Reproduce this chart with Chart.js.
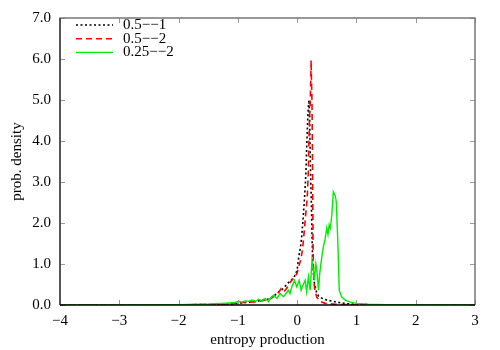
<!DOCTYPE html>
<html>
<head>
<meta charset="utf-8">
<script src="https://cdn.jsdelivr.net/npm/chart.js@4/dist/chart.umd.min.js"></script>
<style>
html,body{margin:0;padding:0;background:#fff;}
#wrap{width:500px;height:350px;}
</style>
</head>
<body>
<div id="wrap"><canvas id="c" width="500" height="350"></canvas></div>
<script>
// ---- data ----
const seriesLabels = ["0.5\u2212\u22121", "0.5\u2212\u22122", "0.25\u2212\u22122"];
const xTicks = [-4, -3, -2, -1, 0, 1, 2, 3];
const yTicks = [0, 1, 2, 3, 4, 5, 6, 7];

const blackX = [-4, -3, -2, -1.5, -1.2, -1.0, -0.9, -0.8, -0.7, -0.6, -0.5, -0.45, -0.4, -0.35, -0.3, -0.25, -0.2, -0.15, -0.1, -0.05, 0, 0.03, 0.06, 0.08, 0.1, 0.12, 0.14, 0.15, 0.16, 0.17, 0.18, 0.19, 0.2, 0.21, 0.22, 0.23, 0.24, 0.25, 0.26, 0.27, 0.29, 0.31, 0.33, 0.36, 0.4, 0.44, 0.5, 0.6, 0.67, 0.75, 0.84, 0.95, 1.1, 1.5, 3];
const blackY = [0, 0, 0.005, 0.01, 0.02, 0.04, 0.06, 0.07, 0.09, 0.11, 0.14, 0.17, 0.21, 0.27, 0.33, 0.38, 0.46, 0.54, 0.6, 0.68, 0.85, 1.2, 1.45, 1.72, 2.1, 2.5, 3.0, 3.3, 3.8, 4.2, 4.6, 4.85, 5.0, 4.6, 3.7, 3.0, 2.5, 1.7, 1.2, 0.85, 0.55, 0.4, 0.3, 0.22, 0.18, 0.15, 0.12, 0.09, 0.07, 0.05, 0.03, 0.02, 0.01, 0, 0];

const redX = [-4, -3, -2, -1.5, -1.2, -1.0, -0.9, -0.8, -0.7, -0.6, -0.5, -0.45, -0.4, -0.35, -0.3, -0.27, -0.22, -0.17, -0.12, -0.08, -0.04, 0, 0.03, 0.06, 0.09, 0.12, 0.15, 0.17, 0.19, 0.2, 0.21, 0.22, 0.23, 0.235, 0.24, 0.25, 0.255, 0.26, 0.265, 0.27, 0.28, 0.3, 0.33, 0.36, 0.4, 0.47, 0.55, 0.65, 0.8, 1.0, 1.5, 3];
const redY = [0, 0, 0.005, 0.01, 0.02, 0.04, 0.06, 0.07, 0.08, 0.1, 0.13, 0.16, 0.2, 0.25, 0.33, 0.4, 0.33, 0.42, 0.55, 0.62, 0.68, 0.78, 0.95, 1.1, 1.35, 1.8, 2.3, 2.6, 3.3, 4.1, 4.6, 4.9, 5.5, 5.97, 5.6, 5.0, 4.2, 3.3, 2.2, 1.3, 0.6, 0.35, 0.2, 0.13, 0.08, 0.04, 0.03, 0.015, 0.01, 0.005, 0, 0];

const greenX = [-4, -3, -2, -1.7, -1.5, -1.4, -1.27, -1.15, -1.05, -0.98, -0.93, -0.88, -0.82, -0.76, -0.7, -0.65, -0.6, -0.54, -0.48, -0.44, -0.4, -0.34, -0.29, -0.23, -0.19, -0.15, -0.12, -0.09, -0.045, -0.005, 0.034, 0.067, 0.09, 0.11, 0.135, 0.16, 0.19, 0.22, 0.25, 0.275, 0.29, 0.315, 0.335, 0.36, 0.38, 0.415, 0.44, 0.47, 0.5, 0.52, 0.54, 0.56, 0.585, 0.61, 0.64, 0.66, 0.69, 0.71, 0.75, 0.81, 0.9, 1.0, 1.2, 1.5, 2, 3];
const greenY = [0, 0, 0.01, 0.02, 0.02, 0.03, 0.04, 0.05, 0.06, 0.09, 0.07, 0.1, 0.09, 0.12, 0.09, 0.14, 0.1, 0.16, 0.08, 0.18, 0.24, 0.16, 0.28, 0.2, 0.28, 0.36, 0.28, 0.44, 0.6, 0.44, 0.6, 0.36, 0.45, 0.52, 0.6, 0.32, 0.68, 0.36, 1.08, 0.84, 0.6, 1.0, 0.8, 0.36, 0.76, 1.16, 1.4, 1.6, 1.88, 1.72, 1.96, 1.88, 2.2, 2.76, 2.68, 2.52, 1.4, 0.36, 0.2, 0.12, 0.07, 0.04, 0.02, 0.01, 0.005, 0];

const pts = (xs, ys) => xs.map((x, i) => ({x: x, y: ys[i]}));
const FONT = "'Liberation Serif', 'Times New Roman', serif";
const fmtMinus = s => String(s).replace('-', '\u2212');

const frameAndLegend = {
  id: 'frameAndLegend',
  afterDatasetsDraw(chart) {
    const {ctx, chartArea: a, scales: {x, y}} = chart;
    ctx.save();
    // inward ticks
    ctx.strokeStyle = '#999';
    ctx.lineWidth = 1;
    const tl = 5;
    xTicks.forEach(v => {
      const px = Math.round(x.getPixelForValue(v)) + 0.5;
      ctx.beginPath();
      ctx.moveTo(px, a.bottom); ctx.lineTo(px, a.bottom - tl);
      ctx.moveTo(px, a.top); ctx.lineTo(px, a.top + tl);
      ctx.stroke();
    });
    yTicks.forEach(v => {
      const py = Math.round(y.getPixelForValue(v)) + 0.5;
      ctx.beginPath();
      ctx.moveTo(a.left, py); ctx.lineTo(a.left + tl, py);
      ctx.moveTo(a.right, py); ctx.lineTo(a.right - tl, py);
      ctx.stroke();
    });
    // border
    ctx.strokeStyle = '#777';
    ctx.lineWidth = 1.5;
    ctx.beginPath();
    ctx.moveTo(a.left, a.bottom); ctx.lineTo(a.left, a.top);
    ctx.lineTo(a.right, a.top); ctx.lineTo(a.right, a.bottom);
    ctx.stroke();
    ctx.strokeStyle = '#333';
    ctx.lineWidth = 1.3;
    ctx.beginPath();
    ctx.moveTo(a.left, a.top); ctx.lineTo(a.left, a.bottom);
    ctx.stroke();
    ctx.strokeStyle = '#000';
    ctx.lineWidth = 1.5;
    ctx.beginPath();
    ctx.moveTo(a.left, a.bottom); ctx.lineTo(a.right, a.bottom);
    ctx.stroke();
    // legend
    ctx.font = '15px ' + FONT;
    ctx.textBaseline = 'middle';
    ctx.textAlign = 'left';
    chart.data.datasets.forEach((ds, i) => {
      const ly = 25 + i * 13.7;
      ctx.strokeStyle = ds.borderColor;
      ctx.lineWidth = ds.borderWidth;
      ctx.setLineDash(ds.borderDash || []);
      ctx.beginPath();
      ctx.moveTo(76, ly); ctx.lineTo(113, ly);
      ctx.stroke();
      ctx.setLineDash([]);
      ctx.fillStyle = '#000';
      ctx.fillText(ds.label, 123, ly);
    });
    ctx.restore();
  }
};

new Chart(document.getElementById('c'), {
  type: 'line',
  data: {
    datasets: [
      {label: seriesLabels[0], data: pts(blackX, blackY), borderColor: '#000000', borderWidth: 1.6, borderDash: [2, 2.5], order: 3},
      {label: seriesLabels[1], data: pts(redX, redY), borderColor: '#ff0000', borderWidth: 1.6, borderDash: [6, 4], order: 2},
      {label: seriesLabels[2], data: pts(greenX, greenY), borderColor: '#00ee00', borderWidth: 1.4, order: 1}
    ]
  },
  options: {
    responsive: false,
    animation: false,
    parsing: true,
    elements: {point: {radius: 0}, line: {tension: 0, fill: false}},
    layout: {padding: {left: 0, top: 14, right: 25, bottom: 0}},
    plugins: {legend: {display: false}, tooltip: {enabled: false}},
    scales: {
      x: {
        type: 'linear', min: -4, max: 3,
        afterBuildTicks: s => { s.ticks = xTicks.map(v => ({value: v})); },
        afterFit: s => { s.height = 45; },
        grid: {display: false, drawTicks: false},
        border: {display: false},
        ticks: {color: '#000', padding: 7, font: {family: FONT, size: 15}, callback: v => fmtMinus(v), maxRotation: 0},
        title: {display: true, text: 'entropy production', color: '#000', font: {family: FONT, size: 15}, padding: {top: 0, bottom: 1}}
      },
      y: {
        type: 'linear', min: 0, max: 7,
        afterBuildTicks: s => { s.ticks = yTicks.map(v => ({value: v})); },
        afterFit: s => { s.width = 60; },
        grid: {display: false, drawTicks: false},
        border: {display: false},
        ticks: {color: '#000', padding: 9, font: {family: FONT, size: 15}, callback: v => Number(v).toFixed(1)},
        title: {display: true, text: 'prob. density', color: '#000', font: {family: FONT, size: 15}, padding: {top: 8, bottom: 0}}
      }
    }
  },
  plugins: [frameAndLegend]
});
</script>
</body>
</html>
